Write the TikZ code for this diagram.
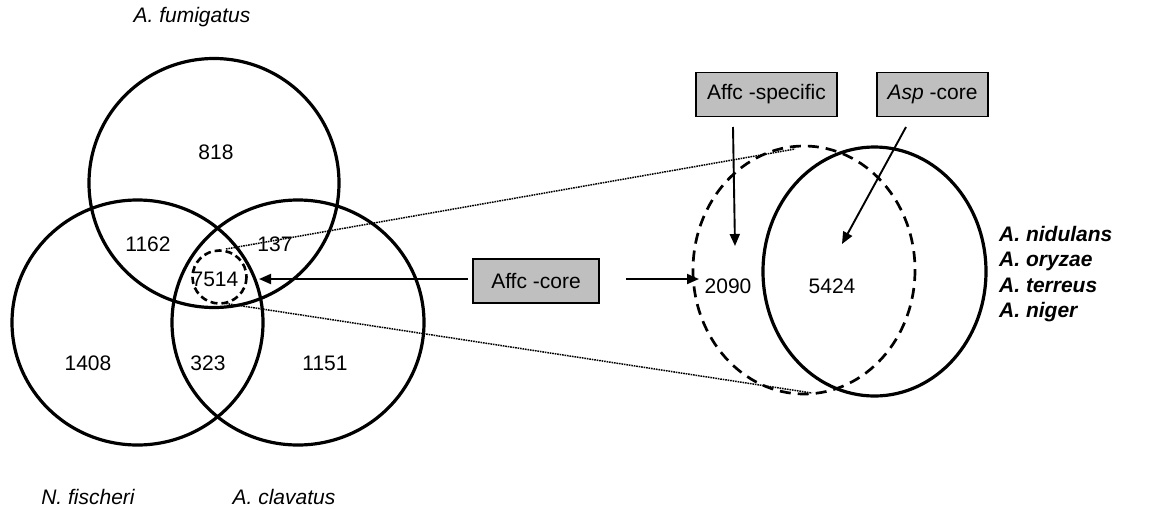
\documentclass[tikz,border=0pt]{standalone}
\usepackage{fontspec}
\setmainfont{Liberation Sans}
\usetikzlibrary{arrows.meta}
\begin{document}
\begin{tikzpicture}[x=1pt,y=-1pt,
  venn/.style={draw=black,line width=3.2pt},
  smalldash/.style={draw=black,line width=2.6pt,dash pattern=on 7pt off 4pt},
  bigdash/.style={draw=black,line width=2.7pt,dash pattern=on 11pt off 7pt},
  zoomline/.style={draw=black,line width=1.5pt,dash pattern=on 1.6pt off 0.9pt},
  num/.style={font=\fontsize{21}{25}\selectfont,inner sep=0pt},
  species/.style={font=\fontsize{21}{25}\selectfont\itshape,inner sep=0pt},
  graybox/.style={draw=black,line width=1.4pt,fill=black!25,font=\fontsize{21}{25}\selectfont,minimum height=44pt,inner sep=0pt},
  arr/.style={line width=1.9pt,-{Triangle[length=12pt,width=10pt]}}
]
\useasboundingbox (0,0) rectangle (1168,509);
% left Venn
\draw[venn] (214,183) ellipse [x radius=125,y radius=124.5];
\draw[venn] (137.5,322.5) ellipse [x radius=125.5,y radius=122.5];
\draw[venn] (298,322.5) ellipse [x radius=126,y radius=122.5];
\draw[smalldash] (219.5,277) ellipse [x radius=27,y radius=26.5];
\coordinate (st) at (226,249);
\coordinate (sb) at (226,303.5);
% numbers
\node[num] (n818) at (216,152) {818};
\node[num] (n1162) at (148,244) {1162};
\node[num] (n137) at (275,244) {137};
\node[num] (n7514) at (215,279) {7514};
\node[num] (n1408) at (88,363) {1408};
\node[num] (n323) at (208,363) {323};
\node[num] (n1151) at (325,363) {1151};
% species labels
\node[species] (fum) at (192,17) {A. fumigatus};
\node[species] (fis) at (88,497) {N. fischeri};
\node[species] (cla) at (284,497) {A. clavatus};
% right Venn
\draw[bigdash] (804,270) ellipse [x radius=111,y radius=124];
\draw[venn] (874.5,271.5) ellipse [x radius=111.5,y radius=124.5];
\coordinate (bt) at (795,149);
\coordinate (bb) at (812,393);
\draw[zoomline] (st) -- (bt);
\draw[zoomline] (sb) -- (bb);
\node[num] (n2090) at (728,286) {2090};
\node[num] (n5424) at (832,286) {5424};
\node[font=\fontsize{21}{25.3}\selectfont\bfseries\itshape,align=left,anchor=west,inner sep=0pt] (asp) at (999,274) {A. nidulans\\A. oryzae\\A. terreus\\A. niger};
% boxes
\node[graybox,minimum width=126pt] (core) at (536,281) {Affc -core};
\node[graybox,minimum width=141pt] (spec) at (766.5,94.5) {Affc -specific};
\node[graybox,minimum width=111pt] (aspc) at (932.5,94.5) {\itshape Asp\upshape\ -core};
% arrows
\coordinate (c1) at (468,279);
\coordinate (c1t) at (259,279);
\coordinate (c2) at (626,279);
\coordinate (c2t) at (699,279);
\draw[arr] (c1) -- (c1t);
\draw[arr] (c2) -- (c2t);
\coordinate (s1) at (733,127);
\coordinate (s1t) at (735,246);
\coordinate (a1) at (906,127);
\coordinate (a1t) at (842,244);
\draw[arr] (s1) -- (s1t);
\draw[arr] (a1) -- (a1t);
\end{tikzpicture}
\end{document}
